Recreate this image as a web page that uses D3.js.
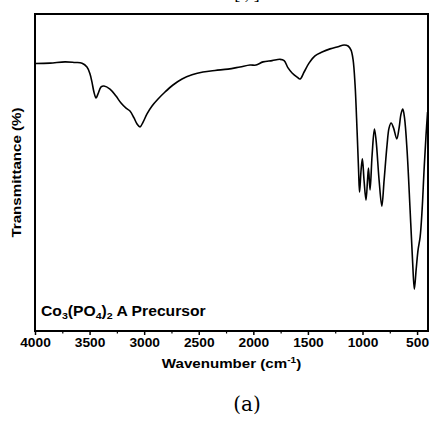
<!DOCTYPE html>
<html lang="en">
<head>
    <meta charset="UTF-8">
    <title>FTIR Co3(PO4)2 A Precursor</title>
    <script src="https://cdn.jsdelivr.net/npm/d3@7"></script>
    <style>
        body { margin: 0; background: #fff; }
        text { font-family: "Liberation Sans", Arial, sans-serif; font-weight: bold; }
    </style>
</head>
<body>
    <script>
        // wavenumber (cm-1)
        var wavenumber = [4000, 3863, 3725, 3633, 3569, 3524, 3496, 3478, 3460, 3441, 3423, 3395, 3368, 3313, 3258,
            3212, 3166, 3130, 3093, 3065, 3038, 3010, 2974, 2928, 2873, 2809, 2736, 2653, 2562, 2461, 2351, 2232,
            2122, 2030, 1975, 1911, 1828, 1755, 1718, 1682, 1645, 1599, 1572, 1535, 1490, 1435, 1370, 1297, 1224,
            1169, 1132, 1105, 1086, 1068, 1050, 1036, 1027, 1013, 1001, 986, 968, 954, 945, 931, 912, 891, 876,
            848, 823, 802, 775, 757, 738, 715, 686, 665, 647, 631, 615, 592, 564, 541, 525, 509, 491, 472, 454,
            436, 418, 404];
        // transmittance, arbitrary units (no y ticks in the original)
        var transmittance = [84.4, 84.5, 84.9, 84.7, 84.5, 83.3, 81.1, 78.5, 75.4, 73.5, 74.8, 77.0, 77.3, 76.3, 74.1,
            71.9, 70.3, 69.4, 67.2, 65.3, 64.4, 65.9, 68.5, 71.0, 73.2, 75.4, 77.6, 79.5, 80.8, 81.7, 82.2, 82.6,
            83.3, 83.9, 83.9, 84.9, 85.3, 85.7, 85.3, 83.0, 81.4, 80.1, 79.5, 81.7, 84.5, 86.8, 88.0, 89.0, 89.7,
            90.2, 89.9, 88.6, 85.5, 77.6, 63.4, 50.8, 43.8, 50.8, 54.3, 47.6, 41.3, 47.6, 51.4, 44.5, 55.5, 63.7, 60.3,
            47.6, 39.4, 47.6, 58.7, 64.0, 65.6, 64.0, 60.6, 64.0, 68.5, 70.0, 67.2, 57.1, 38.2, 21.8, 13.2, 19.2, 25.6, 29.7, 38.2,
            50.8, 61.8, 69.1];
        var majorTicks = [4000, 3500, 3000, 2500, 2000, 1500, 1000, 500];
        var minorTicks = [3750, 3250, 2750, 2250, 1750, 1250, 750];

        var data = wavenumber.map((w, i) => ({ w: w, t: transmittance[i] }));

        var width = 430, height = 422;
        var plot = { left: 35, right: 428, top: 14, bottom: 331 };
        var stretch = 1.12; // the original's lettering is a bit wide

        var x = d3.scaleLinear().domain([4000, 400]).range([plot.left, plot.right]);
        var y = d3.scaleLinear().domain([0, 100]).range([plot.bottom, plot.top]);

        var svg = d3.select("body").append("svg")
            .attr("width", width)
            .attr("height", height);

        // reference note cut off at the very top in the original
        svg.append("text")
            .attr("x", 247)
            .attr("y", -1)
            .attr("text-anchor", "middle")
            .style("font-family", "'Liberation Serif', serif")
            .style("font-weight", "normal")
            .style("font-size", "18px")
            .text("[  ,  ]");

        var line = d3.line()
            .x(d => x(d.w))
            .y(d => y(d.t))
            .curve(d3.curveCatmullRom.alpha(0.5));

        svg.append("path")
            .datum(data)
            .attr("fill", "none")
            .attr("stroke", "#000")
            .attr("stroke-width", 1.6)
            .attr("stroke-linejoin", "round")
            .attr("d", line);

        // bottom axis
        var xAxis = d3.axisBottom(x).tickValues(majorTicks).tickSize(4).tickSizeOuter(0).tickFormat(d3.format("d"));
        var gx = svg.append("g")
            .attr("transform", "translate(0," + plot.bottom + ")")
            .call(xAxis);
        gx.select(".domain").remove();
        gx.selectAll(".tick line").attr("stroke-width", 1.5);
        gx.selectAll(".tick text")
            .attr("y", 0)
            .attr("dy", 0)
            .attr("transform", "translate(0,16) scale(1.1,1)")
            .style("font-size", "12.5px")
            .style("font-weight", "bold");

        var xMinor = d3.axisBottom(x).tickValues(minorTicks).tickSize(2.5).tickFormat("");
        var gm = svg.append("g")
            .attr("transform", "translate(0," + plot.bottom + ")")
            .call(xMinor);
        gm.select(".domain").remove();
        gm.selectAll(".tick line").attr("stroke-width", 1.2);

        // frame
        svg.append("rect")
            .attr("x", plot.left)
            .attr("y", plot.top)
            .attr("width", plot.right - plot.left)
            .attr("height", plot.bottom - plot.top)
            .attr("fill", "none")
            .attr("stroke", "#000")
            .attr("stroke-width", 2);

        // axis titles
        var xt = svg.append("text")
            .attr("transform", "translate(" + ((plot.left + plot.right) / 2) + ",368) scale(" + stretch + ",1)")
            .attr("text-anchor", "middle")
            .style("font-size", "13.5px");
        xt.append("tspan").text("Wavenumber (cm");
        xt.append("tspan").attr("dy", -5).style("font-size", "9px").text("-1");
        xt.append("tspan").attr("dy", 5).text(")");

        svg.append("text")
            .attr("transform", "translate(21," + ((plot.top + plot.bottom) / 2) + ") rotate(-90) scale(" + stretch + ",1)")
            .attr("text-anchor", "middle")
            .style("font-size", "13.5px")
            .text("Transmittance (%)");

        // sample label
        var lab = svg.append("text")
            .attr("transform", "translate(41,316) scale(" + stretch + ",1)")
            .style("font-size", "14px");
        lab.append("tspan").text("Co");
        lab.append("tspan").attr("dy", 3).style("font-size", "9.5px").text("3");
        lab.append("tspan").attr("dy", -3).text("(PO");
        lab.append("tspan").attr("dy", 3).style("font-size", "9.5px").text("4");
        lab.append("tspan").attr("dy", -3).text(")");
        lab.append("tspan").attr("dy", 3).style("font-size", "9.5px").text("2");
        lab.append("tspan").attr("dy", -3).text(" A Precursor");

        // panel letter
        svg.append("text")
            .attr("x", 247)
            .attr("y", 411)
            .attr("text-anchor", "middle")
            .style("font-family", "'DejaVu Serif', 'Liberation Serif', serif")
            .style("font-weight", "normal")
            .style("font-size", "20px")
            .text("(a)");
    </script>
</body>
</html>
